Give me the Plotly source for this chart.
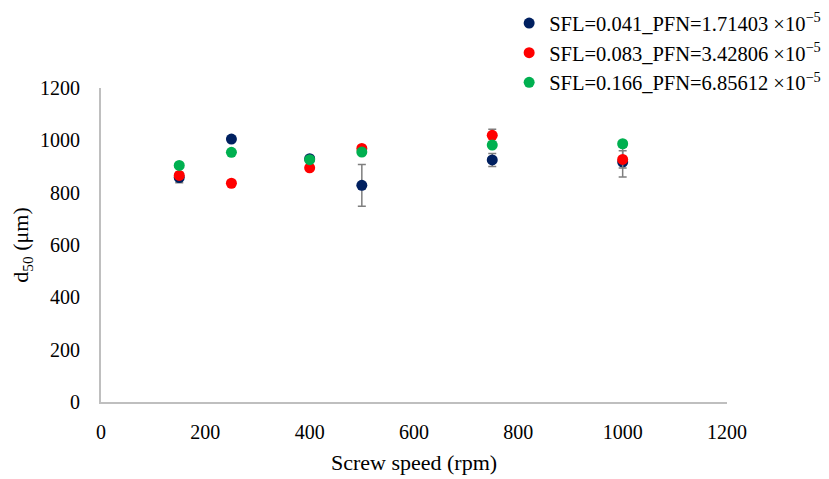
import plotly.graph_objects as go

screw_speed = [150, 250, 400, 500, 750, 1000]

names = [
    "SFL=0.041_PFN=1.71403 ×10<sup>−5</sup>",
    "SFL=0.083_PFN=3.42806 ×10<sup>−5</sup>",
    "SFL=0.166_PFN=6.85612 ×10<sup>−5</sup>",
]
d50_navy = [858, 1005, 930, 828, 925, 917]
err_navy = [20, 6, 6, 80, 25, 57]
d50_red = [866, 836, 895, 969, 1019, 927]
err_red = [8, 10, 6, 8, 23, 33]
d50_green = [904, 954, 926, 955, 982, 987]
err_green = [5, 5, 5, 5, 5, 5]

colors = ["#002060", "#FF0000", "#00B050"]
series = [(d50_navy, err_navy), (d50_red, err_red), (d50_green, err_green)]

FONT = "Liberation Serif, Times New Roman, serif"

fig = go.Figure()
for name, (vals, errs), c in zip(names, series, colors):
    fig.add_trace(go.Scatter(
        x=screw_speed, y=vals, mode="markers", name=name,
        marker=dict(color=c, size=11, line=dict(width=0)),
        error_y=dict(type="data", array=errs, visible=True,
                     color="#7F7F7F", thickness=1.5, width=4),
    ))

fig.update_layout(
    width=821, height=471,
    margin=dict(l=93, r=102, t=80, b=77, autoexpand=False),
    paper_bgcolor="white", plot_bgcolor="white",
    font=dict(family=FONT, size=19, color="#000000"),
    showlegend=True,
    legend=dict(x=0.652, y=1.27, xanchor="left", yanchor="top",
                font=dict(family=FONT, size=20.5), bgcolor="rgba(0,0,0,0)",
                itemwidth=30, tracegroupgap=0),
    xaxis=dict(range=[0, 1200], dtick=200, showgrid=False, zeroline=False,
               showline=True, linecolor="#BFBFBF", linewidth=2, automargin=False,
               ticks="", tickfont=dict(family=FONT, size=20), ticklabelstandoff=11,
               title=dict(text="Screw speed (rpm)", font=dict(family=FONT, size=22), standoff=13)),
    yaxis=dict(range=[0, 1200], dtick=200, showgrid=False, zeroline=False,
               showline=True, linecolor="#BFBFBF", linewidth=2, automargin=False,
               ticks="", tickfont=dict(family=FONT, size=20), ticklabelstandoff=15,
               title=dict(text="d<sub>50</sub> (μm)", font=dict(family=FONT, size=22), standoff=8)),
)

fig.write_html("out.html")
